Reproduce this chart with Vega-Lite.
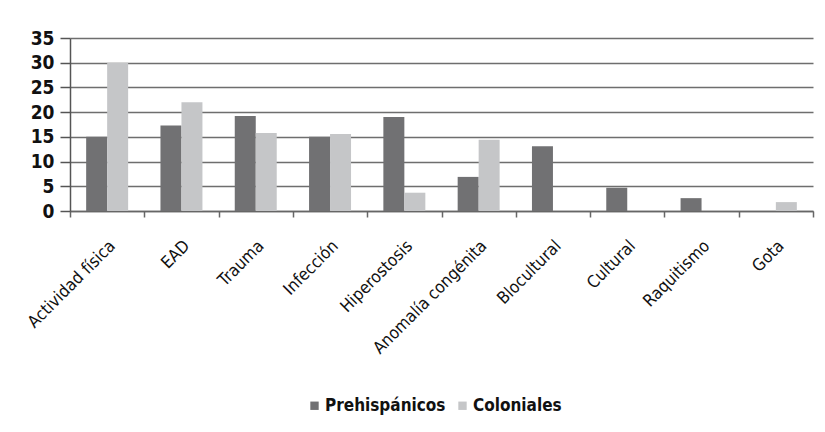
{
  "$schema": "https://vega.github.io/schema/vega-lite/v6.json",
  "autosize": {"type": "none"},
  "width": 743,
  "height": 173,
  "padding": {"left": 70, "top": 38, "right": 12, "bottom": 221},
  "background": "white",
  "data": {
    "values": [
      {"cat": "Actividad física", "serie": "Prehispánicos", "v": 15},
      {"cat": "Actividad física", "serie": "Coloniales", "v": 30},
      {"cat": "EAD", "serie": "Prehispánicos", "v": 17.3},
      {"cat": "EAD", "serie": "Coloniales", "v": 22},
      {"cat": "Trauma", "serie": "Prehispánicos", "v": 19.2},
      {"cat": "Trauma", "serie": "Coloniales", "v": 15.8},
      {"cat": "Infección", "serie": "Prehispánicos", "v": 15},
      {"cat": "Infección", "serie": "Coloniales", "v": 15.6},
      {"cat": "Hiperostosis", "serie": "Prehispánicos", "v": 19},
      {"cat": "Hiperostosis", "serie": "Coloniales", "v": 3.7},
      {"cat": "Anomalía congénita", "serie": "Prehispánicos", "v": 6.9},
      {"cat": "Anomalía congénita", "serie": "Coloniales", "v": 14.4},
      {"cat": "Blocultural", "serie": "Prehispánicos", "v": 13.1},
      {"cat": "Blocultural", "serie": "Coloniales", "v": 0},
      {"cat": "Cultural", "serie": "Prehispánicos", "v": 4.7},
      {"cat": "Cultural", "serie": "Coloniales", "v": 0},
      {"cat": "Raquitismo", "serie": "Prehispánicos", "v": 2.6},
      {"cat": "Raquitismo", "serie": "Coloniales", "v": 0},
      {"cat": "Gota", "serie": "Prehispánicos", "v": 0},
      {"cat": "Gota", "serie": "Coloniales", "v": 1.8}
    ]
  },
  "mark": {"type": "bar"},
  "encoding": {
    "x": {
      "field": "cat",
      "type": "nominal",
      "sort": ["Actividad física", "EAD", "Trauma", "Infección", "Hiperostosis", "Anomalía congénita", "Blocultural", "Cultural", "Raquitismo", "Gota"],
      "scale": {"paddingInner": 0, "paddingOuter": 0},
      "axis": {
        "title": null,
        "tickBand": "extent",
        "labelAngle": -45,
        "labelAlign": "right",
        "labelBaseline": "middle",
        "labelPadding": 26,
        "labelOffset": 5,
        "labelFont": "DejaVu Sans Condensed, Liberation Sans, sans-serif",
        "labelFontSize": 17,
        "labelColor": "#111",
        "domainColor": "#666",
        "domainWidth": 1.5,
        "tickColor": "#666",
        "tickWidth": 1.5,
        "tickSize": 6,
        "grid": false
      }
    },
    "xOffset": {
      "field": "serie",
      "type": "nominal",
      "sort": ["Prehispánicos", "Coloniales"],
      "scale": {"paddingInner": 0, "paddingOuter": 0.77}
    },
    "y": {
      "field": "v",
      "type": "quantitative",
      "scale": {"domain": [0, 35], "nice": false},
      "axis": {
        "title": null,
        "values": [0, 5, 10, 15, 20, 25, 30, 35],
        "grid": true,
        "gridColor": "#6e6e6e",
        "gridWidth": 1.5,
        "domainColor": "#555",
        "domainWidth": 1.5,
        "tickColor": "#555",
        "tickWidth": 1.5,
        "tickSize": 10,
        "labelPadding": 6,
        "labelFont": "DejaVu Sans Condensed, Liberation Sans, sans-serif",
        "labelFontWeight": "bold",
        "labelFontSize": 19,
        "labelColor": "#111"
      }
    },
    "color": {
      "field": "serie",
      "type": "nominal",
      "sort": ["Prehispánicos", "Coloniales"],
      "scale": {"domain": ["Prehispánicos", "Coloniales"], "range": ["#717173", "#c5c6c8"]},
      "legend": {
        "title": null,
        "orient": "none",
        "direction": "horizontal",
        "legendX": 236,
        "legendY": 359,
        "padding": 0,
        "symbolType": "square",
        "symbolSize": 70,
        "symbolStrokeWidth": 0,
        "labelFont": "DejaVu Sans Condensed, Liberation Sans, sans-serif",
        "labelFontWeight": "bold",
        "labelFontSize": 17,
        "labelColor": "#111",
        "labelOffset": 2,
        "columnPadding": 8
      }
    }
  },
  "config": {"view": {"stroke": null}}
}
